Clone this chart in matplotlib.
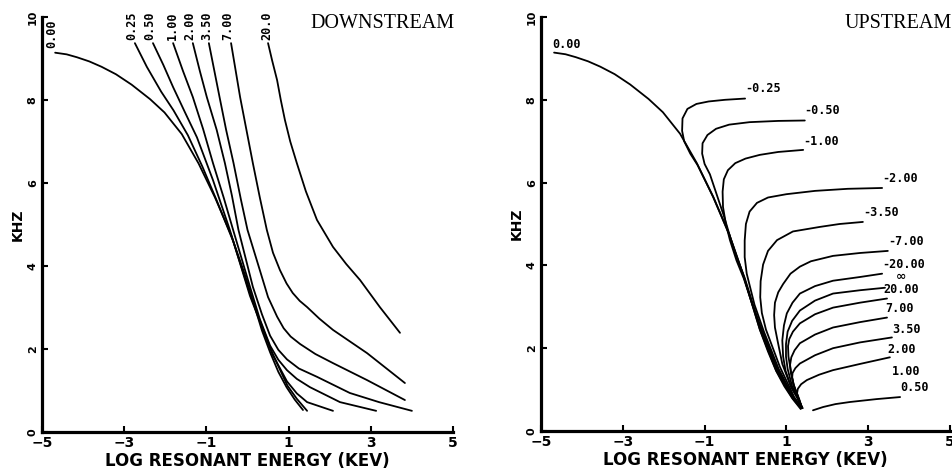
import matplotlib
matplotlib.use("Agg")
import matplotlib.pyplot as plt

# ---- data (x = log resonant energy, y = kHz) ----
main_x = [-4.68, -4.40, -4.15, -3.85, -3.55, -3.20, -2.82, -2.37, -2.02, -1.60, -1.19, -0.79, -0.40,
          -0.06, 0.15, 0.35, 0.55, 0.75, 0.95, 1.15, 1.35]
main_y = [9.14, 9.10, 9.03, 8.93, 8.80, 8.62, 8.37, 8.02, 7.70, 7.18, 6.47, 5.65, 4.75,
          3.78, 3.10, 2.45, 1.92, 1.45, 1.08, 0.78, 0.53]

# downstream curves
d025_x = [-2.74, -2.45, -2.10, -1.80, -1.45, -1.10, -0.75, -0.35, 0.10, 0.58, 0.97, 1.20, 1.45]
d025_y = [9.37, 8.80, 8.20, 7.75, 7.15, 6.40, 5.58, 4.60, 3.22, 1.95, 1.12, 0.80, 0.51]
d050_x = [-2.30, -2.05, -1.81, -1.52, -1.23, -0.84, -0.43, 0.06, 0.62, 0.96, 1.20, 1.45, 2.08]
d050_y = [9.37, 8.85, 8.31, 7.70, 7.10, 6.07, 4.87, 3.28, 1.85, 1.22, 0.93, 0.72, 0.51]
d100_x = [-1.81, -1.57, -1.33, -1.08, -0.84, -0.58, -0.35, 0.06, 0.30, 0.55, 0.75, 0.96, 1.20,
          1.52, 2.25, 3.13]
d100_y = [9.37, 8.70, 8.07, 7.30, 6.48, 5.65, 4.87, 3.50, 2.72, 2.08, 1.74, 1.49, 1.28,
          1.08, 0.72, 0.51]
d200_x = [-1.33, -1.16, -0.99, -0.75, -0.55, -0.38, -0.22, 0.13, 0.35, 0.55, 0.75, 0.96, 1.25,
          1.69, 2.49, 3.20, 4.00]
d200_y = [9.37, 8.70, 8.07, 7.28, 6.48, 5.70, 4.87, 3.50, 2.84, 2.32, 1.98, 1.75, 1.53,
          1.33, 0.94, 0.72, 0.51]
d350_x = [-0.94, -0.68, -0.52, -0.34, -0.16, 0.00, 0.30, 0.50, 0.72, 0.88, 1.05, 1.28, 1.65,
          2.08, 2.91, 3.83]
d350_y = [9.37, 8.07, 7.28, 6.48, 5.60, 4.87, 3.90, 3.25, 2.78, 2.50, 2.30, 2.12, 1.88,
          1.66, 1.25, 0.77]
d700_x = [-0.40, -0.18, 0.13, 0.30, 0.47, 0.62, 0.79, 0.95, 1.10, 1.27, 1.45, 1.75, 2.08, 2.91, 3.83]
d700_y = [9.37, 8.07, 6.48, 5.65, 4.87, 4.32, 3.90, 3.58, 3.35, 3.16, 3.01, 2.73, 2.46, 1.90, 1.18]
d2000_x = [0.50, 0.60, 0.72, 0.81, 0.91, 1.04, 1.20, 1.42, 1.69, 2.08, 2.40, 2.74, 3.22, 3.71]
d2000_y = [9.37, 8.95, 8.48, 8.00, 7.52, 7.00, 6.48, 5.80, 5.11, 4.46, 4.05, 3.66, 3.01, 2.39]

down_labels = ["0.00", "0.25", "0.50", "1.00", "2.00", "3.50", "7.00", "20.0"]
down_label_x = [-4.76, -2.82, -2.37, -1.84, -1.40, -0.98, -0.47, 0.47]
down_label_y = [9.25, 9.45, 9.45, 9.45, 9.45, 9.45, 9.45, 9.45]

# upstream curves
u025_x = [-0.01, -0.50, -0.90, -1.20, -1.42, -1.54, -1.55, -1.50, -1.35, -1.17, -0.79, -0.40, -0.06,
          0.35, 0.75, 1.15, 1.36]
u025_y = [8.03, 8.00, 7.96, 7.90, 7.78, 7.55, 7.25, 7.00, 6.70, 6.42, 5.66, 4.76, 3.79,
          2.46, 1.46, 0.79, 0.55]
u050_x = [1.45, 0.80, 0.10, -0.40, -0.72, -0.93, -1.05, -1.06, -1.00, -0.87, -0.70, -0.52, -0.35,
          -0.21, -0.02, 0.37, 0.77, 1.16, 1.37]
u050_y = [7.50, 7.49, 7.46, 7.40, 7.30, 7.15, 6.95, 6.70, 6.45, 6.20, 5.70, 5.17, 4.60,
          4.18, 3.70, 2.46, 1.47, 0.80, 0.56]
u100_x = [1.41, 0.80, 0.35, 0.00, -0.25, -0.43, -0.53, -0.56, -0.55, -0.48, -0.38, -0.22, -0.04,
          0.17, 0.40, 0.79, 1.17, 1.37]
u100_y = [6.79, 6.74, 6.67, 6.58, 6.47, 6.30, 6.08, 5.78, 5.41, 5.00, 4.61, 4.12, 3.68,
          3.05, 2.45, 1.48, 0.80, 0.56]
u200_x = [3.34, 2.50, 1.70, 1.00, 0.55, 0.28, 0.10, 0.01, -0.02, -0.02, 0.03, 0.22, 0.45,
          0.81, 1.18, 1.37]
u200_y = [5.87, 5.85, 5.80, 5.72, 5.64, 5.51, 5.30, 5.00, 4.60, 4.20, 3.80, 3.05, 2.40,
          1.50, 0.80, 0.56]
u350_x = [2.87, 2.30, 1.82, 1.16, 0.77, 0.55, 0.43, 0.37, 0.36, 0.40, 0.50, 0.84, 1.19, 1.38]
u350_y = [5.05, 5.00, 4.93, 4.82, 4.61, 4.35, 4.02, 3.62, 3.23, 2.85, 2.45, 1.55, 0.82, 0.56]
u700_x = [3.48, 2.80, 2.14, 1.60, 1.33, 1.10, 0.92, 0.80, 0.72, 0.70, 0.72, 0.78, 0.90, 1.10, 1.27, 1.38]
u700_y = [4.35, 4.30, 4.23, 4.10, 3.97, 3.80, 3.55, 3.35, 3.10, 2.80, 2.50, 2.20, 1.62, 1.10, 0.80, 0.56]
u2000_x = [3.34, 2.80, 2.14, 1.70, 1.33, 1.15, 1.01, 0.94, 0.90, 0.92, 0.98, 1.12, 1.28, 1.38]
u2000_y = [3.80, 3.72, 3.63, 3.50, 3.32, 3.10, 2.84, 2.55, 2.19, 1.80, 1.45, 1.05, 0.78, 0.56]
p2000_x = [3.41, 2.80, 2.14, 1.70, 1.33, 1.14, 1.03, 0.99, 0.99, 1.03, 1.14, 1.29, 1.38]
p2000_y = [3.46, 3.40, 3.32, 3.15, 2.91, 2.66, 2.40, 2.10, 1.80, 1.50, 1.08, 0.78, 0.56]
p700_x = [3.46, 2.80, 2.14, 1.70, 1.33, 1.16, 1.07, 1.04, 1.05, 1.10, 1.18, 1.31, 1.38]
p700_y = [3.20, 3.10, 2.98, 2.82, 2.60, 2.40, 2.22, 2.05, 1.80, 1.50, 1.10, 0.78, 0.56]
p350_x = [3.46, 2.80, 2.14, 1.70, 1.33, 1.20, 1.12, 1.09, 1.11, 1.18, 1.28, 1.38]
p350_y = [2.74, 2.63, 2.50, 2.33, 2.12, 1.95, 1.78, 1.60, 1.40, 1.12, 0.82, 0.56]
p200_x = [3.58, 2.80, 2.14, 1.70, 1.33, 1.22, 1.15, 1.14, 1.17, 1.25, 1.33, 1.38]
p200_y = [2.26, 2.14, 2.00, 1.83, 1.63, 1.52, 1.40, 1.28, 1.12, 0.90, 0.70, 0.56]
p100_x = [3.53, 2.80, 2.14, 1.80, 1.50, 1.36, 1.28, 1.26, 1.30, 1.36, 1.40]
p100_y = [1.78, 1.62, 1.47, 1.36, 1.23, 1.13, 1.02, 0.91, 0.76, 0.62, 0.55]
p050_x = [1.65, 1.90, 2.20, 2.55, 3.20, 3.78]
p050_y = [0.50, 0.58, 0.65, 0.70, 0.77, 0.82]

up_labels = ["0.00", "-0.25", "-0.50", "-1.00", "-2.00", "-3.50", "-7.00", "-20.00",
             "20.00", "7.00", "3.50", "2.00", "1.00", "0.50"]
up_label_x = [-4.73, -0.01, 1.43, 1.41, 3.34, 2.87, 3.48, 3.34, 3.36, 3.41, 3.58, 3.46, 3.58, 3.78]
up_label_y = [9.33, 8.28, 7.73, 7.00, 6.09, 5.27, 4.57, 4.01, 3.41, 2.97, 2.46, 1.98, 1.43, 1.04]

x_ticks = [-5, -3, -1, 1, 3, 5]
y_ticks = [0, 2, 4, 6, 8, 10]

W, H = 953, 471
fig = plt.figure(figsize=(W / 100, H / 100), dpi=100)
axL = fig.add_axes([42 / W, 1 - 432 / H, 411 / W, 415 / H])
axR = fig.add_axes([541 / W, 1 - 431 / H, 409 / W, 414 / H])

LW = 1.3
MONO = dict(family="DejaVu Sans Mono", fontweight="bold", fontsize=8.5)


def style(ax):
    ax.set_xlim(-5, 5)
    ax.set_ylim(0, 10)
    for s in ("top", "right"):
        ax.spines[s].set_visible(False)
    for s in ("left", "bottom"):
        ax.spines[s].set_linewidth(2.3)
    ax.set_xticks(x_ticks)
    ax.set_yticks(y_ticks)
    ax.tick_params(direction="in", length=4, width=1.5, pad=3)
    for t in ax.get_xticklabels():
        t.set_fontweight("bold")
        t.set_fontsize(10)
    for t in ax.get_yticklabels():
        t.set_fontweight("bold")
        t.set_fontsize(8)
        t.set_rotation(90)
        t.set_va("center")
    ax.set_xlabel("LOG RESONANT ENERGY (KEV)", fontsize=12, fontweight="bold", labelpad=1)
    ax.set_ylabel("KHZ", fontsize=10, fontweight="bold", labelpad=2)
    ax.patch.set_alpha(0)


# ---- downstream ----
down_curves = [(main_x, main_y), (d025_x, d025_y), (d050_x, d050_y), (d100_x, d100_y),
               (d200_x, d200_y), (d350_x, d350_y), (d700_x, d700_y), (d2000_x, d2000_y)]
for cx, cy in down_curves:
    axL.plot(cx, cy, color="black", lw=LW, solid_capstyle="round", solid_joinstyle="round")
for lab, lx, ly in zip(down_labels, down_label_x, down_label_y):
    axL.text(lx, ly, lab, rotation=90, ha="center", va="bottom", **MONO)
style(axL)

# ---- upstream ----
up_curves = [(main_x, main_y), (u025_x, u025_y), (u050_x, u050_y), (u100_x, u100_y),
             (u200_x, u200_y), (u350_x, u350_y), (u700_x, u700_y), (u2000_x, u2000_y),
             (p2000_x, p2000_y), (p700_x, p700_y), (p350_x, p350_y), (p200_x, p200_y),
             (p100_x, p100_y), (p050_x, p050_y)]
for cx, cy in up_curves:
    axR.plot(cx, cy, color="black", lw=LW, solid_capstyle="round", solid_joinstyle="round")
for lab, lx, ly in zip(up_labels, up_label_x, up_label_y):
    axR.text(lx, ly, lab, ha="left", va="center", **MONO)
# overstruck infinity sign under the -20.00 label, as in the original plot
axR.text(3.80, 3.74, "\u221e", ha="center", va="center", fontsize=9, fontweight="bold")
style(axR)

fig.text(455 / W, 1 - 24 / H, "DOWNSTREAM", ha="right", va="center",
         family="Liberation Serif", fontsize=14.5)
fig.text(952 / W, 1 - 23 / H, "UPSTREAM", ha="right", va="center",
         family="Liberation Serif", fontsize=14.5)

fig.savefig("out.png", dpi=100)
